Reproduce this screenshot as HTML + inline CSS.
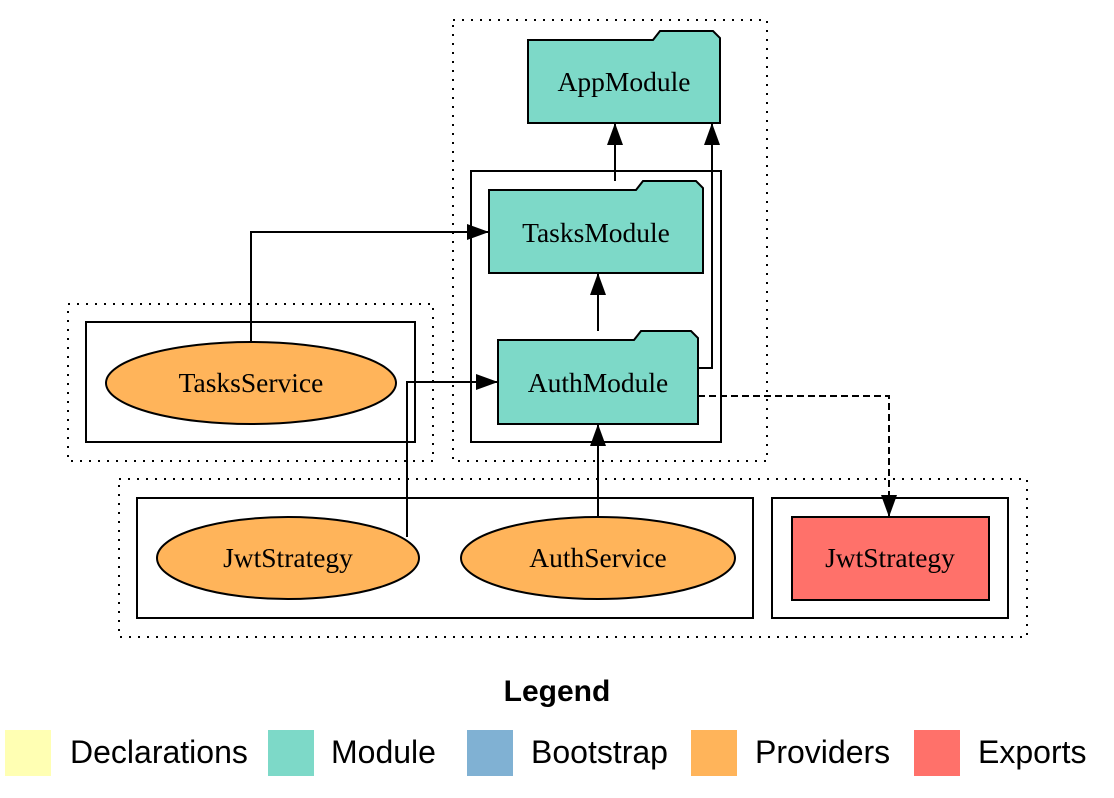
<!DOCTYPE html>
<html><head><meta charset="utf-8"><style>
html,body{margin:0;padding:0;background:#fff;width:1114px;height:798px;overflow:hidden}
svg text{font-family:"Liberation Serif",serif}
</style></head><body>
<svg width="1114" height="798" viewBox="0 0 1114 798" xmlns="http://www.w3.org/2000/svg">
<defs>
<marker id="b" markerWidth="24" markerHeight="20" refX="22" refY="10" orient="auto" markerUnits="userSpaceOnUse" viewBox="0 0 24 20"><path d="M0,2 L22,10 L0,18 z" fill="#000"/></marker></defs>
<g fill="none" stroke="#000" stroke-width="2">
<rect x="453" y="20" width="314" height="441" stroke-dasharray="2,7"/>
<rect x="68" y="304" width="365" height="157" stroke-dasharray="2,7"/>
<rect x="119" y="479" width="908" height="158" stroke-dasharray="2,7"/>
<rect x="471" y="171" width="250" height="271"/>
<rect x="86" y="322" width="329" height="120"/>
<rect x="137" y="498" width="616" height="120"/>
<rect x="772" y="498" width="236" height="120"/>
</g>
<g stroke="#000" stroke-width="2" fill="#7dd9c8">
<path d="M528,40 L653,40 L660,31 L713,31 L720,38 L720,123 L528,123 Z"/>
<path d="M489,190 L636,190 L643,181 L696,181 L703,188 L703,273 L489,273 Z"/>
<path d="M498,340 L634,340 L641,331 L691,331 L698,338 L698,424 L498,424 Z"/>
</g>
<g stroke="#000" stroke-width="2" fill="#ffb45a">
<ellipse cx="251" cy="383" rx="145" ry="41"/>
<ellipse cx="288" cy="558" rx="131" ry="41"/>
<ellipse cx="598" cy="558" rx="137" ry="41"/>
</g>
<rect x="792" y="517" width="197" height="83" fill="#ff716a" stroke="#000" stroke-width="2"/>
<g fill="none" stroke="#000" stroke-width="2">
<path d="M615,181 V123" marker-end="url(#b)"/>
<path d="M698,368 H712 V123" marker-end="url(#b)"/>
<path d="M598,331 V273" marker-end="url(#b)"/>
<path d="M598,517 V424" marker-end="url(#b)"/>
<path d="M251,342 V232 H489" marker-end="url(#b)"/>
<path d="M407,537 V382 H498" marker-end="url(#b)"/>
<path d="M698,396 H889 V517" stroke-dasharray="7,4" marker-end="url(#b)"/>
</g>
<g font-size="27.5" text-anchor="middle" fill="#000">
<text x="624" y="91">AppModule</text>
<text x="596" y="242">TasksModule</text>
<text x="598" y="392">AuthModule</text>
<text x="251" y="392">TasksService</text>
<text x="288" y="567">JwtStrategy</text>
<text x="598" y="567">AuthService</text>
<text x="890" y="567">JwtStrategy</text>
</g>
<text x="557" y="701" font-size="30" font-weight="bold" text-anchor="middle" style="font-family:'Liberation Sans',sans-serif">Legend</text>
<rect x="5" y="730" width="46" height="46" fill="#ffffb3"/>
<rect x="268" y="730" width="46" height="46" fill="#7dd9c8"/>
<rect x="467" y="730" width="46" height="46" fill="#80b1d3"/>
<rect x="691" y="730" width="46" height="46" fill="#ffb45a"/>
<rect x="914" y="730" width="46" height="46" fill="#ff716a"/>
<g font-size="32">
<text x="70" y="763" style="font-family:'Liberation Sans',sans-serif">Declarations</text>
<text x="331" y="763" style="font-family:'Liberation Sans',sans-serif">Module</text>
<text x="531" y="763" style="font-family:'Liberation Sans',sans-serif">Bootstrap</text>
<text x="755" y="763" style="font-family:'Liberation Sans',sans-serif">Providers</text>
<text x="978" y="763" style="font-family:'Liberation Sans',sans-serif">Exports</text>
</g>
</svg>
</body></html>
